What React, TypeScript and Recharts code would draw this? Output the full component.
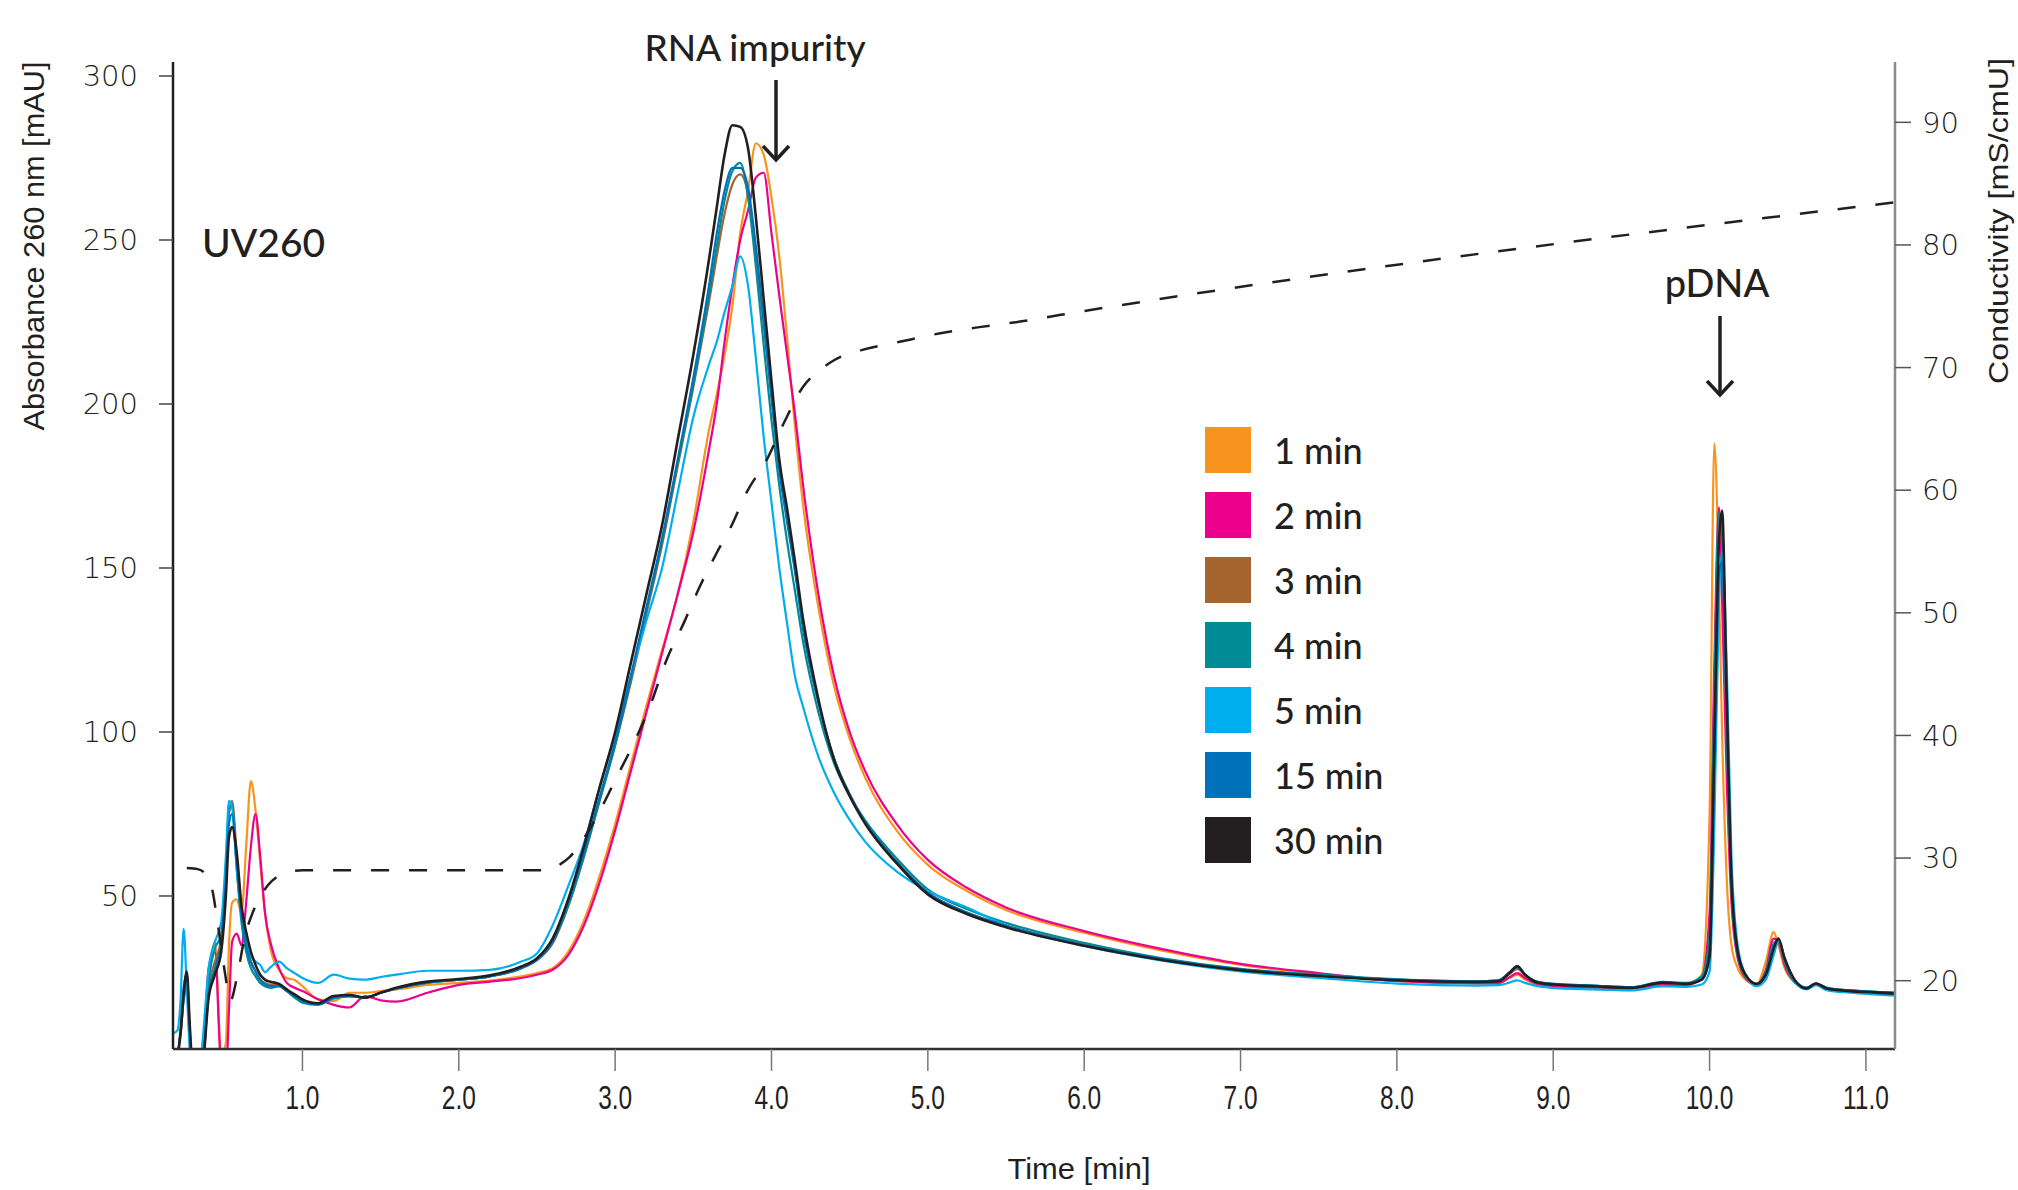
import React from 'react';
import { LineChart, Line, XAxis, YAxis, Legend } from 'recharts';

// sample times [min] shared by all UV260 traces
const times = [
  0.17, 0.2, 0.22, 0.24, 0.26, 0.28, 0.3, 0.33, 0.36, 0.4,
  0.44, 0.48, 0.51, 0.53, 0.55, 0.58, 0.61, 0.64, 0.67, 0.7,
  0.73, 0.76, 0.8, 0.85, 0.9, 0.95, 1.0, 1.1, 1.2, 1.3,
  1.4, 1.5, 1.6, 1.8, 2.0, 2.2, 2.4, 2.5, 2.6, 2.7,
  2.8, 2.9, 3.0, 3.1, 3.2, 3.3, 3.4, 3.5, 3.6, 3.65,
  3.7, 3.75, 3.8, 3.85, 3.9, 3.95, 4.0, 4.05, 4.1, 4.15,
  4.2, 4.3, 4.4, 4.5, 4.6, 4.8, 5.0, 5.25, 5.5, 6.0,
  6.5, 7.0, 7.5, 8.0, 8.5, 8.65, 8.72, 8.77, 8.82, 8.9,
  9.0, 9.25, 9.5, 9.7, 9.85, 9.95, 10.0, 10.03, 10.06, 10.08,
  10.11, 10.14, 10.18, 10.23, 10.3, 10.36, 10.41, 10.44, 10.48, 10.55,
  10.62, 10.68, 10.75, 10.9, 11.05, 11.2,
];

// absorbance 260 nm [mAU]
const uv1min = [
  -5, -5, -3, 2, -3, -8, -10, -10, -5, 25,
  36, 2, 5, 35, 48, 49, 45, 65, 85, 76,
  60, 45, 33, 27.5, 25, 24.4, 22.5, 18.5, 18, 20.5,
  20.5, 21, 21.5, 22.9, 23.5, 24.2, 25.5, 26.5, 28, 33,
  42.5, 56, 72, 90, 108, 125, 142, 164, 192, 203,
  215, 230, 252, 265, 279.5, 276, 263, 245, 220, 193,
  170, 138, 114, 98, 86, 70, 59.5, 51.5, 45.7, 38.8,
  33.3, 29, 26.3, 24, 23.3, 23.3, 25, 26, 24.5, 23,
  22.5, 22, 21.8, 22.5, 22.5, 26, 75, 188, 145, 100,
  55, 35, 28, 24.5, 23, 30, 39, 35, 28, 23.5,
  22, 23, 21.8, 21, 20.6, 20.2,
];
const uv2min = [
  -5, -5, -5, -3, -5, -8, -10, -10, -5, 28,
  33, -2, -5, 15, 36, 38.5, 35, 48, 65, 75,
  62, 45, 35, 28, 23.5, 22, 21, 18.5, 16.8, 16,
  19.5, 18.2, 17.8, 20.5, 22.9, 23.9, 25, 26, 27.5, 32,
  41, 54, 70, 88, 106, 124, 142, 161, 186, 200,
  219, 236, 250, 259, 269, 270.5, 252, 233, 215, 197,
  176, 142, 117, 100, 88, 72, 61, 52.5, 46.5, 39.3,
  33.8, 29.3, 26.5, 24.1, 23.4, 23.5, 25.2, 26.5, 25, 23.2,
  22.6, 22.1, 21.9, 23, 22.8, 25, 45, 120, 168.5, 140,
  85, 48, 31, 25, 23, 27.5, 37, 36, 29, 23.5,
  22, 23, 21.8, 21, 20.6, 20.2,
];
const uv3min = [
  3, 3, 8, 19, 24, 7, -5, -10, -3, 22,
  30, 37, 57, 75, 79, 62, 45, 35, 30, 27,
  24.5, 23.5, 23, 23, 21.5, 19.5, 18, 17, 19.2, 19.5,
  19, 20.5, 21.8, 23.6, 24.5, 25.5, 28, 30.5, 35.5, 47,
  62, 79, 96, 115, 136, 157, 181, 205, 231, 245,
  258, 267, 270, 264, 246, 225, 202, 181, 165, 150,
  133, 109, 92, 81, 72.5, 60.5, 51, 45, 41, 35.2,
  30.8, 27.6, 25.8, 24.5, 24, 24.2, 26.2, 27.8, 25.8, 23.7,
  23.1, 22.6, 22.1, 23.5, 23.2, 25, 35, 100, 160, 158,
  100, 52, 32, 25.5, 23, 26.5, 35, 36.5, 30, 23.5,
  22, 23.3, 22, 21.2, 20.8, 20.4,
];
const uv4min = [
  3, 3, 8, 18, 22, 6, -5, -10, -2, 24,
  34, 38, 58, 76, 78, 58, 42, 33, 28, 25.5,
  23.5, 22.5, 22, 22.5, 21, 19, 17.5, 16.8, 18.8, 19.5,
  19, 20.5, 21.8, 23.6, 24.5, 25.5, 28, 30.5, 36, 47,
  62, 79, 96, 116, 137, 158, 182, 206, 233, 248,
  262, 271, 273.5, 263, 242, 218, 195, 175, 158, 143,
  128, 106, 90.5, 80.5, 73, 61.5, 52, 46, 41.8, 35.7,
  31, 27.8, 26, 24.6, 24, 24.3, 26.8, 28.6, 26, 23.8,
  23.2, 22.7, 22.2, 23.8, 23.5, 25.5, 38, 110, 167, 160,
  100, 52, 32, 25.5, 23, 27, 35.5, 36.5, 30, 23.5,
  22, 23.3, 22, 21.2, 20.8, 20.4,
];
const uv5min = [
  8, 9, 18, 40, 22, 2, -5, -8, 5, 28,
  36, 42, 62, 79, 77, 58, 44, 36, 32, 30,
  29, 26.8, 28.5, 30, 28, 26.5, 25, 23.5, 26, 24.8,
  24.5, 25.3, 26, 27.2, 27.2, 27.5, 30, 32.5, 41, 53,
  66, 83, 99, 117, 134, 150, 173, 196, 212, 219,
  228, 236, 245, 236, 214, 190, 170, 150, 133, 117,
  108, 92.5, 81.5, 73.2, 66.5, 57.5, 51.5, 46.5, 41, 34.8,
  30.3, 27, 25, 23.3, 22.7, 22.8, 23.6, 24.3, 23.5, 22.5,
  22, 21.5, 21.2, 22.5, 22.3, 23, 27, 70, 140, 155,
  120, 62, 35, 26, 22.5, 24.5, 32, 36, 31, 23.5,
  21.5, 22.8, 21.3, 20.5, 20, 19.6,
];
const uv15min = [
  3, 3, 9, 22, 26, 8, -5, -10, -3, 20,
  28, 36, 55, 72, 75, 60, 44, 35, 30, 27,
  24.5, 23, 22.5, 22.5, 21, 19.5, 18, 17, 19, 19.5,
  19, 20.5, 21.8, 23.6, 24.5, 25.5, 28, 30.5, 36, 48,
  63, 80, 97, 117, 138, 159, 183, 208, 236, 252,
  265, 272, 272, 266, 248, 225, 202, 180, 164, 149,
  132, 109, 92, 81, 72.5, 60.5, 51, 45, 41, 35,
  30.8, 27.6, 25.8, 24.5, 24, 24.2, 26.5, 28.3, 26, 23.8,
  23.2, 22.7, 22.2, 23.6, 23.3, 24.5, 31, 90, 148, 152,
  105, 55, 33, 26, 23.2, 26, 34, 37, 31, 24,
  22, 23.3, 22, 21.2, 20.8, 20.4,
];
const uv30min = [
  2, 2, 8, 20, 27, 10, -5, -10, -4, 19,
  26, 33, 50, 68, 71, 63, 47, 39, 33, 29,
  26, 24.5, 23.8, 23.2, 21.5, 20, 18.5, 17.3, 19.5, 19.8,
  19, 20.5, 22, 23.9, 24.7, 25.8, 28.5, 31, 37, 49,
  65, 83, 100, 121, 142, 163, 189, 215, 244, 260,
  276, 285, 284.5, 278, 257, 232, 207, 183, 168, 152,
  135, 110, 91.5, 80.5, 72, 60, 50.5, 44.5, 40.5, 34.8,
  30.5, 27.4, 25.6, 24.3, 23.8, 24, 26.5, 28.6, 26, 23.6,
  23, 22.5, 22, 23.6, 23.2, 24.5, 32, 95, 158, 167.5,
  110, 55, 33, 26, 23.2, 26, 34, 37, 31, 24,
  21.8, 23.3, 21.8, 21, 20.6, 20.2,
];

// conductivity [mS/cm], own time base
const condTimes = [
  0.26, 0.33, 0.38, 0.42, 0.46, 0.5, 0.54, 0.58, 0.63, 0.68,
  0.72, 0.78, 0.84, 0.92, 1.0, 2.58, 2.65, 2.71, 2.8, 2.9,
  3.01, 3.12, 3.22, 3.33, 3.44, 3.54, 3.65, 3.74, 3.84, 3.97,
  4.08, 4.2, 4.31, 4.4, 4.57, 4.82, 5.08, 5.33, 5.59, 5.85, 11.2,
];
const conductivity = [
  29.2, 29.1, 28.7, 27.6, 24.5, 21, 18.4, 20.2, 23.5, 25.5,
  26.6, 27.8, 28.5, 28.9, 29.0, 29.0, 29.5, 30.1, 31.6, 33.8,
  36.6, 39.4, 42.3, 46.2, 49.2, 52.1, 54.9, 57.0, 59.8, 62.5,
  65.5, 68.4, 69.8, 70.6, 71.4, 72.1, 72.8, 73.3, 73.75, 74.3, 83.5,
];

const seriesNames = ['1 min', '2 min', '3 min', '4 min', '5 min', '15 min', '30 min'];
const seriesColors = ['#F7941D', '#EC008C', '#A6652E', '#008B95', '#00AEEF', '#0072BC', '#231F20'];
const xTicks = [1, 2, 3, 4, 5, 6, 7, 8, 9, 10, 11];
const uvTicks = [50, 100, 150, 200, 250, 300];
const condTicks = [20, 30, 40, 50, 60, 70, 80, 90];

const uvSeries = [uv1min, uv2min, uv3min, uv4min, uv5min, uv15min, uv30min];
const uvRows = times.map((t, i) => {
  const row: Record<string, number> = { t };
  uvSeries.forEach((s, k) => {
    row[`s${k}`] = s[i];
  });
  return row;
});
const condRows = condTimes.map((t, i) => ({ t, cond: conductivity[i] }));

const INK = '#231F20';
const tickFont = "'DejaVu Sans', sans-serif";
const labelFont = "Lato, 'DejaVu Sans', sans-serif";
const narrowFont = "'Liberation Sans', Arial, sans-serif";

// condensed look: Liberation Sans squeezed horizontally
const XTick = ({ x, y, payload }: any) => (
  <text
    transform={`translate(${x},${y + 36}) scale(0.72,1)`}
    textAnchor="middle"
    fontFamily={narrowFont}
    fontSize={34}
    fill={INK}
  >
    {Number(payload.value).toFixed(1)}
  </text>
);

const LegendContent = ({ payload }: any) => {
  const items = (payload || [])
    .filter((p: any) => seriesNames.includes(p.value))
    .sort((a: any, b: any) => seriesNames.indexOf(a.value) - seriesNames.indexOf(b.value));
  return (
    <div>
      {items.map((p: any) => (
        <div key={p.value} style={{ display: 'flex', alignItems: 'center', height: 46, marginBottom: 19 }}>
          <div style={{ width: 46, height: 46, background: p.color }} />
          <span style={{ marginLeft: 23, fontFamily: labelFont, fontWeight: 500, fontSize: 36, color: INK }}>
            {p.value}
          </span>
        </div>
      ))}
    </div>
  );
};

// annotation text + arrows over the chart
const Annotations = () => (
  <svg width={2018} height={1190} style={{ position: 'absolute', left: 0, top: 0, pointerEvents: 'none' }}>
    <text x={755} y={61} textAnchor="middle" fontFamily={labelFont} fontWeight={500} fontSize={37} fill={INK}>
      RNA impurity
    </text>
    <g stroke={INK} strokeWidth={3.5} fill="none">
      <line x1={776} y1={80} x2={776} y2={158} />
      <polyline points="763,146 776,160 789,146" />
      <line x1={1720} y1={316} x2={1720} y2={394} />
      <polyline points="1707,381 1720,395 1733,381" />
    </g>
    <text x={1717} y={297} textAnchor="middle" fontFamily={labelFont} fontWeight={500} fontSize={38} fill={INK}>
      pDNA
    </text>
    <text x={202} y={257} fontFamily={labelFont} fontWeight={500} fontSize={39} fill={INK}>
      UV260
    </text>
    <text
      x={44}
      y={246}
      transform="rotate(-90 44 246)"
      textAnchor="middle"
      fontFamily={narrowFont}
      fontSize={29}
      fill={INK}
      textLength={369}
      lengthAdjust="spacingAndGlyphs"
    >
      Absorbance 260 nm [mAU]
    </text>
    <text
      x={2008}
      y={221}
      transform="rotate(-90 2008 221)"
      textAnchor="middle"
      fontFamily={narrowFont}
      fontSize={28}
      fill={INK}
      textLength={326}
      lengthAdjust="spacingAndGlyphs"
    >
      Conductivity [mS/cmU]
    </text>
    <text
      x={1079}
      y={1179}
      textAnchor="middle"
      fontFamily={narrowFont}
      fontSize={30}
      fill={INK}
      textLength={143}
      lengthAdjust="spacingAndGlyphs"
    >
      Time [min]
    </text>
  </svg>
);

export default function App() {
  return (
    <div style={{ position: 'absolute', left: 0, top: 0, width: 2018, height: 1190, background: '#fff' }}>
      <LineChart width={2018} height={1190} data={uvRows} margin={{ top: 62, right: 0, bottom: 0, left: 0 }}>
        <XAxis
          dataKey="t"
          type="number"
          domain={[0.172, 11.186]}
          allowDataOverflow
          ticks={xTicks}
          interval={0}
          height={141}
          tickSize={22}
          tick={<XTick />}
          axisLine={{ stroke: '#333', strokeWidth: 2.5 }}
          tickLine={{ stroke: '#777', strokeWidth: 1.5 }}
        />
        <YAxis
          yAxisId="uv"
          orientation="left"
          width={173}
          domain={[3.35, 304.27]}
          allowDataOverflow
          ticks={uvTicks}
          interval={0}
          tickSize={14}
          tickMargin={21}
          tick={{ fill: INK, fontSize: 29, fontFamily: tickFont, fontWeight: 300 }}
          axisLine={{ stroke: INK, strokeWidth: 2.5 }}
          tickLine={{ stroke: '#444', strokeWidth: 1.5 }}
        />
        <YAxis
          yAxisId="cond"
          orientation="right"
          width={123}
          domain={[14.43, 94.92]}
          allowDataOverflow
          ticks={condTicks}
          interval={0}
          tickSize={16}
          tickMargin={11}
          tick={{ fill: INK, fontSize: 29, fontFamily: tickFont, fontWeight: 300, textAnchor: 'start' }}
          axisLine={{ stroke: '#8a8a8a', strokeWidth: 2.5 }}
          tickLine={{ stroke: '#555', strokeWidth: 1.5 }}
        />
        {seriesNames.map((name, k) => (
          <Line
            key={name}
            yAxisId="uv"
            type="monotone"
            dataKey={`s${k}`}
            name={name}
            stroke={seriesColors[k]}
            strokeWidth={k === 6 ? 2.6 : 2.2}
            dot={false}
            activeDot={false}
            isAnimationActive={false}
          />
        ))}
        <Line
          yAxisId="cond"
          data={condRows}
          type="monotone"
          dataKey="cond"
          name="Conductivity"
          stroke={INK}
          strokeWidth={2.5}
          strokeDasharray="18 20"
          dot={false}
          activeDot={false}
          legendType="none"
          isAnimationActive={false}
        />
        <Legend
          layout="vertical"
          align="center"
          verticalAlign="middle"
          content={<LegendContent />}
          wrapperStyle={{ left: 1205, top: 427, width: 320 }}
        />
      </LineChart>
      <Annotations />
    </div>
  );
}
